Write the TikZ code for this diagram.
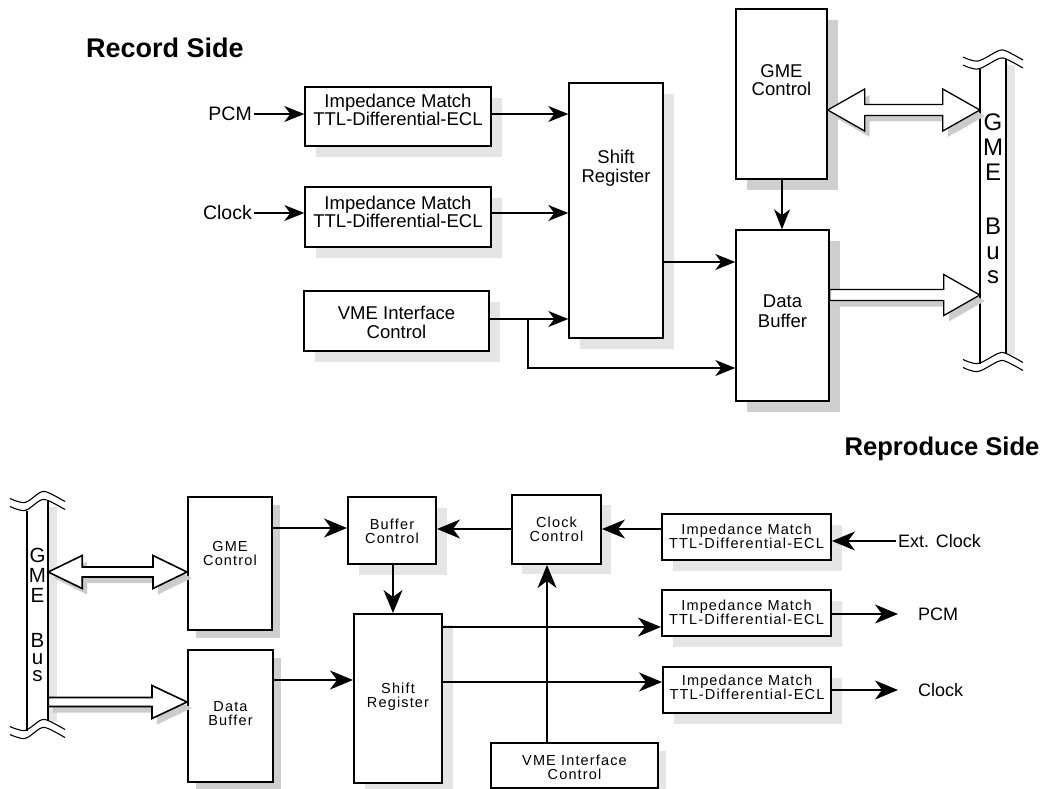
\documentclass[tikz,border=0pt]{standalone}
\usepackage{fontspec}
\setmainfont{Liberation Sans}
\newfontfamily\spacedfont[LetterSpace=8]{Liberation Sans}
\usetikzlibrary{arrows.meta,calc,shadows}

\definecolor{shadelight}{gray}{0.90}
\definecolor{shadedark}{gray}{0.81}
\definecolor{arrowshade}{gray}{0.80}

% outline of a wide horizontal bus arrow; \p1 = tail, \p2 = tip (set by a let)
% #1 half shaft, #2 half head, #3 head length, #4 shift right, #5 shift down
\newcommand\fatrightpts[5]{%
  (\x1+#4,\y1+#1-#5) -- (\x2-#3+#4,\y1+#1-#5) -- (\x2-#3+#4,\y1+#2-#5) -- (\x2+#4,\y1-#5)
  -- (\x2-#3+#4,\y1-#2-#5) -- (\x2-#3+#4,\y1-#1-#5) -- (\x1+#4,\y1-#1-#5) -- cycle}
\newcommand\fatbothpts[5]{%
  (\x1+#4,\y1-#5) -- (\x1+#3+#4,\y1+#2-#5) -- (\x1+#3+#4,\y1+#1-#5) -- (\x2-#3+#4,\y1+#1-#5)
  -- (\x2-#3+#4,\y1+#2-#5) -- (\x2+#4,\y1-#5) -- (\x2-#3+#4,\y1-#2-#5) -- (\x2-#3+#4,\y1-#1-#5)
  -- (\x1+#3+#4,\y1-#1-#5) -- (\x1+#3+#4,\y1-#2-#5) -- cycle}
% #1 from, #2 to, #3 half shaft, #4 half head, #5 head length, #6 outline width
\newcommand\fatright[6]{%
  \fill[arrowshade] let \p1=(#1), \p2=(#2) in \fatrightpts{#3}{#4}{#5}{5pt}{6pt};
  \draw[line width=#6, fill=white] let \p1=(#1), \p2=(#2) in \fatrightpts{#3}{#4}{#5}{0pt}{0pt};}
\newcommand\fatboth[6]{%
  \fill[arrowshade] let \p1=(#1), \p2=(#2) in \fatbothpts{#3}{#4}{#5}{5pt}{6pt};
  \draw[line width=#6, fill=white] let \p1=(#1), \p2=(#2) in \fatbothpts{#3}{#4}{#5}{0pt}{0pt};}
% bus bar with broken ends: left x, right x, top break y, bottom break y
\newcommand\busbar[4]{%
  \fill[shadelight] (#2+0.7,#3+8) rectangle (#2+9,#4-5);
  \draw[line width=1.3pt] (#1,#3+12) -- (#1,#4+4) (#2,#3+2) -- (#2,#4-6);
  \foreach \yy in {#3,#3+8,#4,#4+8}
    \draw[line width=1.1pt] plot[smooth,tension=0.55] coordinates
      {(#1-17,\yy) (#1-2,\yy+4) (#2-8,\yy-6) (#2,\yy-6) (#2+17,\yy+3)};}

\begin{document}
\begin{tikzpicture}[x=1pt,y=-1pt,
  boxbase/.style={draw, fill=white, inner sep=0pt},
  sh/.style n args={2}{drop shadow={shadow xshift=#1pt, shadow yshift=-#1pt, fill=#2, opacity=1}},
  tbox/.style={boxbase, line width=1.4pt},
  bbox/.style={boxbase, line width=2pt},
  ttext/.style={align=center, inner sep=0pt, font=\fontsize{18.5}{19}\selectfont},
  btext/.style={align=center, inner sep=0pt, font=\spacedfont\fontsize{14.5}{14}\selectfont},
  title/.style={inner sep=0pt, font=\bfseries\fontsize{27}{30}\selectfont},
  sig/.style={inner sep=2pt, font=\fontsize{19.5}{22}\selectfont},
  bsig/.style={inner sep=2pt, font=\fontsize{18}{20}\selectfont},
  tarrow/.style={line width=1.3pt, -{Stealth[length=20pt,width=16pt,inset=6pt]}},
  barrow/.style={line width=1.6pt, -{Stealth[length=23pt,width=19pt,inset=7pt]}},
  busletters/.style={align=center, inner sep=0pt},
]
\useasboundingbox (0,0) rectangle (1045,789);

% ---------------- record side ----------------
\node[title] (rec) at (165,48) {Record Side};

\node[tbox, sh={11}{shadelight}, minimum width=186pt, minimum height=59pt] (im1) at (398,116.5) {};
\node[ttext, font=\fontsize{18.5}{18}\selectfont] (im1t) at (398,110) {Impedance Match\\TTL-Differential-ECL};
\node[tbox, sh={11}{shadelight}, minimum width=186pt, minimum height=60pt] (im2) at (398,217) {};
\node[ttext, font=\fontsize{18.5}{18}\selectfont] (im2t) at (398,212) {Impedance Match\\TTL-Differential-ECL};
\node[tbox, sh={11}{shadelight}, minimum width=185pt, minimum height=60pt] (vme1) at (396.5,321) {};
\node[ttext] (vme1t) at (396.5,322.5) {VME Interface\\Control};
\node[tbox, sh={11}{shadelight}, minimum width=94pt, minimum height=255pt] (sr1) at (616,210.5) {};
\node[ttext, font=\fontsize{18.5}{19.5}\selectfont] (sr1t) at (616,168) {Shift\\Register};
\node[tbox, sh={11}{shadedark}, minimum width=91pt, minimum height=170pt] (gme1) at (781.5,94) {};
\node[ttext, font=\fontsize{18.5}{18}\selectfont] (gme1t) at (781.5,80) {GME\\Control};
\node[tbox, sh={11}{shadedark}, minimum width=93pt, minimum height=171pt] (db1) at (782.5,315.5) {};
\node[ttext, font=\fontsize{18.5}{19.5}\selectfont] (db1t) at (782.5,311) {Data\\Buffer};

\node[sig, anchor=east] (pcmin) at (254,114) {PCM};
\node[sig, anchor=east] (clkin) at (254,213) {Clock};

% bus on the record side
\busbar{980}{1006}{57}{359.5}
\node[inner sep=0pt, minimum width=26pt, minimum height=300pt] (bus1) at (993,211) {};
\node[busletters, font=\fontsize{24}{25}\selectfont] (bus1a) at (993,147) {G\\M\\E};
\node[busletters, font=\fontsize{24}{24.5}\selectfont] (bus1b) at (993,251) {B\\u\\s};

\draw[tarrow] (pcmin.east) -- (pcmin.east -| im1.west);
\draw[tarrow] (im1.east |- pcmin.east) -- (sr1.west |- pcmin.east);
\draw[tarrow] (clkin.east) -- (clkin.east -| im2.west);
\draw[tarrow] (im2.east |- clkin.east) -- (sr1.west |- clkin.east);
\draw[tarrow] (vme1.east |- 0,319) -- (sr1.west |- 0,319);
\coordinate (split) at (528,319);
\draw[tarrow] (split) |- (db1.west |- 0,368);
\draw[tarrow] (sr1.east |- 0,262) -- (db1.west |- 0,262);
\draw[tarrow] (gme1.south -| 782,0) -- (db1.north -| 782,0);

\fatboth{gme1.east |- 0,110}{bus1.west |- 0,110}{5.5pt}{21pt}{37pt}{1.3pt}
\fatright{db1.east |- 0,295}{bus1.west |- 0,295}{5.5pt}{20.5pt}{36pt}{1.3pt}

% ---------------- reproduce side ----------------
\node[title, font=\bfseries\fontsize{25.6}{30}\selectfont] (rep) at (942,449) {Reproduce Side};

\busbar{27}{48}{498.5}{726.5}
\node[inner sep=0pt, minimum width=21pt, minimum height=225pt] (bus2) at (37.5,616) {};
\node[busletters, font=\fontsize{20.5}{20}\selectfont] (bus2a) at (37.5,575) {G\\M\\E};
\node[busletters, font=\fontsize{20.5}{17}\selectfont] (bus2b) at (37.5,658) {B\\u\\s};

\node[bbox, sh={8}{shadedark}, minimum width=84pt, minimum height=133pt] (gme2) at (230,563.5) {};
\node[btext] (gme2t) at (230,553.5) {GME\\Control};
\node[bbox, sh={8}{shadedark}, minimum width=85pt, minimum height=132pt] (db2) at (230.5,716) {};
\node[btext] (db2t) at (230.5,714) {Data\\Buffer};
\node[bbox, sh={11}{shadelight}, minimum width=88pt, minimum height=67pt] (bc) at (392,530.5) {};
\node[btext] (bct) at (392,531) {Buffer\\Control};
\node[bbox, sh={10}{shadelight}, minimum width=89pt, minimum height=69pt] (cc) at (556.5,529.5) {};
\node[btext] (cct) at (556.5,529.5) {Clock\\Control};
\node[bbox, sh={11}{shadelight}, minimum width=88pt, minimum height=169pt] (sr2) at (398,698.5) {};
\node[btext] (sr2t) at (398,697) {Shift\\Register};
\node[bbox, sh={8}{shadelight}, minimum width=167pt, minimum height=45pt] (vme2) at (574.5,765.5) {};
\node[btext] (vme2t) at (574.5,767.5) {VME Interface\\Control};
\node[bbox, sh={11}{shadelight}, minimum width=169pt, minimum height=46pt] (im3) at (746.5,537) {};
\node[btext] (im3t) at (746.5,536.5) {Impedance Match\\TTL-Differential-ECL};
\node[bbox, sh={11}{shadelight}, minimum width=169pt, minimum height=46pt] (im4) at (746.5,613) {};
\node[btext] (im4t) at (746.5,612.5) {Impedance Match\\TTL-Differential-ECL};
\node[bbox, sh={11}{shadelight}, minimum width=168pt, minimum height=46pt] (im5) at (747,690) {};
\node[btext] (im5t) at (747,687) {Impedance Match\\TTL-Differential-ECL};

\node[bsig, anchor=west] (extclk) at (896,541) {Ext. Clock};
\node[bsig, anchor=west] (pcmout) at (916,614) {PCM};
\node[bsig, anchor=west] (clkout) at (916,690) {Clock};

\fatboth{bus2.east |- 0,572}{gme2.west |- 0,572}{5pt}{16.5pt}{34pt}{1.6pt}
\fatright{bus2.east |- 0,702}{db2.west |- 0,702}{4.5pt}{16.5pt}{35pt}{1.6pt}

\draw[barrow] (gme2.east |- 0,528) -- (bc.west |- 0,528);
\draw[barrow] (cc.west |- 0,529) -- (bc.east |- 0,529);
\draw[barrow] (bc.south -| 393,0) -- (sr2.north -| 393,0);
\draw[barrow] (im3.west |- 0,529) -- (cc.east |- 0,529);
\draw[barrow] (extclk.west) -- (extclk.west -| im3.east);
\draw[barrow] (db2.east |- 0,680) -- (sr2.west |- 0,680);
\draw[barrow] (sr2.east |- 0,627) -- (im4.west |- 0,627);
\draw[barrow] (sr2.east |- 0,682) -- (im5.west |- 0,682);
\draw[barrow, shorten >=18pt] (im4.east |- pcmout.west) -- (pcmout.west);
\draw[barrow, shorten >=18pt] (im5.east |- clkout.west) -- (clkout.west);
\draw[barrow] (vme2.north -| 547,0) -- (cc.south -| 547,0);
\end{tikzpicture}
\end{document}
